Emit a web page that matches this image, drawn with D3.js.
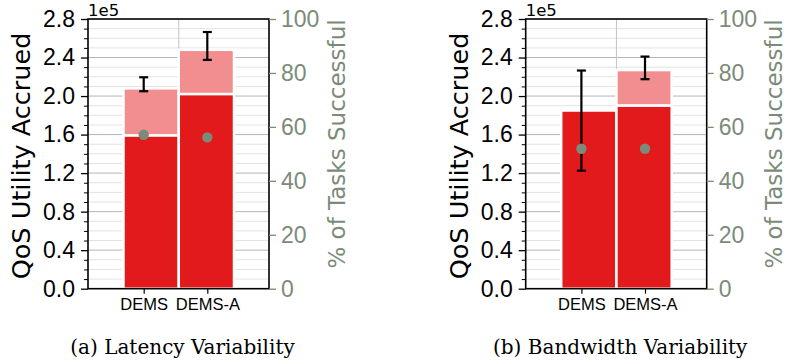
<!DOCTYPE html>
<html>
<head>
<meta charset="utf-8">
<script src="https://cdn.jsdelivr.net/npm/d3@7"></script>
<style>
  body { margin: 0; background: #fff; }
  svg { display: block; font-family: "DejaVu Sans", sans-serif; }
</style>
</head>
<body>
<svg id="chart" width="788" height="362"></svg>
<script>
// categories and values
const categories = ["DEMS", "DEMS-A"];

// (a) latency variability
const latencyBase = [1.59e5, 2.02e5];
const latencyTotal = [2.08e5, 2.48e5];
const latencyErrLow = [2.05e5, 2.375e5];
const latencyErrHigh = [2.195e5, 2.665e5];
const latencySuccess = [57.1, 56.1];

// (b) bandwidth variability
const bandwidthBase = [1.85e5, 1.90e5];
const bandwidthTotal = [1.85e5, 2.27e5];
const bandwidthErrLow = [1.225e5, 2.175e5];
const bandwidthErrHigh = [2.265e5, 2.41e5];
const bandwidthSuccess = [51.9, 51.9];

// ticks
const yMajorTicks = [0, 0.4e5, 0.8e5, 1.2e5, 1.6e5, 2.0e5, 2.4e5, 2.8e5];
const yMinorTicks = d3.range(1, 28).map(i => i * 1e4).filter(v => Math.round(v / 1e4) % 4 !== 0);
const pctTicks = [0, 20, 40, 60, 80, 100];

const captions = ["(a) Latency Variability", "(b) Bandwidth Variability"];

const darkRed = "#e31a1c";
const lightRed = "#f28e8f";
const sage = "#7b8b79";

const svg = d3.select("#chart");

// Draw one panel of the figure
function drawPanel(left, base, total, errLow, errHigh, success, caption) {
    const top = 19, bottom = 288.7;
    const width = 181;

    const g = svg.append("g").attr("transform", `translate(${left},0)`);

    const y = d3.scaleLinear().domain([0, 2.8e5]).range([bottom, top]);
    const yPct = d3.scaleLinear().domain([0, 100]).range([bottom, top]);
    const xBand = d3.scaleBand().domain(categories).range([35.5, 146]).padding(0);
    const xTick = d3.scalePoint().domain(categories).range([55.7, 119.3]);

    // grid lines
    g.append("g").selectAll("line.minor")
        .data(yMinorTicks)
        .enter().append("line")
        .attr("x1", 0).attr("x2", width)
        .attr("y1", d => y(d)).attr("y2", d => y(d))
        .attr("stroke", "#e3e3e3").attr("stroke-width", 1);

    g.append("g").selectAll("line.major")
        .data(yMajorTicks.slice(1, -1))
        .enter().append("line")
        .attr("x1", 0).attr("x2", width)
        .attr("y1", d => y(d)).attr("y2", d => y(d))
        .attr("stroke", "#b5b5b5").attr("stroke-width", 1);

    g.append("line")
        .attr("x1", xBand(categories[1])).attr("x2", xBand(categories[1]))
        .attr("y1", top).attr("y2", bottom)
        .attr("stroke", "#c4c4c4").attr("stroke-width", 1);

    // stacked bars
    const rows = categories.map((c, i) => ({
        cat: c, base: base[i], total: total[i],
        lo: errLow[i], hi: errHigh[i], pct: success[i]
    }));

    g.selectAll("rect.upper")
        .data(rows.filter(d => d.total > d.base))
        .enter().append("rect")
        .attr("x", d => xBand(d.cat))
        .attr("width", xBand.bandwidth())
        .attr("y", d => y(d.total))
        .attr("height", d => y(d.base) - y(d.total))
        .attr("fill", lightRed)
        .attr("stroke", "#fff").attr("stroke-width", 2.5);

    g.selectAll("rect.lower")
        .data(rows)
        .enter().append("rect")
        .attr("x", d => xBand(d.cat))
        .attr("width", xBand.bandwidth())
        .attr("y", d => y(d.base))
        .attr("height", d => y(0) - y(d.base))
        .attr("fill", darkRed)
        .attr("stroke", "#fff").attr("stroke-width", 2.5);

    // error bars
    const err = g.append("g").attr("stroke", "#000").attr("stroke-width", 2.2);
    rows.forEach(d => {
        const cx = xTick(d.cat);
        err.append("line").attr("x1", cx).attr("x2", cx).attr("y1", y(d.lo)).attr("y2", y(d.hi));
        err.append("line").attr("x1", cx - 4.5).attr("x2", cx + 4.5).attr("y1", y(d.lo)).attr("y2", y(d.lo));
        err.append("line").attr("x1", cx - 4.5).attr("x2", cx + 4.5).attr("y1", y(d.hi)).attr("y2", y(d.hi));
    });

    // success rate markers
    g.selectAll("circle")
        .data(rows)
        .enter().append("circle")
        .attr("cx", d => xTick(d.cat))
        .attr("cy", d => yPct(d.pct))
        .attr("r", 5.2)
        .attr("fill", sage);

    // frame
    g.append("rect")
        .attr("x", 0).attr("y", top)
        .attr("width", width).attr("height", bottom - top)
        .attr("fill", "none").attr("stroke", "#000").attr("stroke-width", 1.6);

    // left axis
    const yAxis = g.append("g")
        .call(d3.axisLeft(y).tickValues(yMajorTicks).tickFormat(d => (d / 1e5).toFixed(1)).tickSize(7).tickPadding(6));
    yAxis.select(".domain").remove();
    yAxis.selectAll("line").attr("stroke-width", 1.3);
    yAxis.selectAll("text").style("font-size", "23px").attr("fill", "#000");

    const yMinor = g.append("g")
        .call(d3.axisLeft(y).tickValues(yMinorTicks).tickFormat("").tickSize(4));
    yMinor.select(".domain").remove();
    yMinor.selectAll("line").attr("stroke-width", 1);

    // right axis
    const rAxis = g.append("g")
        .attr("transform", `translate(${width},0)`)
        .call(d3.axisRight(yPct).tickValues(pctTicks).tickSize(7).tickPadding(5));
    rAxis.select(".domain").remove();
    rAxis.selectAll("line").attr("stroke", sage).attr("stroke-width", 1.3);
    rAxis.selectAll("text").style("font-size", "23px").attr("fill", sage);

    // bottom axis
    const xAxis = g.append("g")
        .attr("transform", `translate(0,${bottom})`)
        .call(d3.axisBottom(xTick).tickSize(5).tickPadding(5));
    xAxis.select(".domain").remove();
    xAxis.selectAll("line").attr("stroke-width", 1.2);
    xAxis.selectAll("text").style("font-size", "16.5px").attr("fill", "#000");

    // offset text
    g.append("text")
        .attr("x", 0).attr("y", 16)
        .style("font-size", "16.5px")
        .text("1e5");

    // axis titles
    g.append("text")
        .attr("transform", `translate(-58,156) rotate(-90)`)
        .attr("text-anchor", "middle")
        .style("font-size", "25.5px")
        .text("QoS Utility Accrued");

    g.append("text")
        .attr("transform", `translate(${width + 75.5},144) rotate(-90)`)
        .attr("text-anchor", "middle")
        .style("font-size", "23px")
        .attr("fill", sage)
        .text("% of Tasks Successful");

    // caption
    g.append("text")
        .attr("x", width / 2 + 4).attr("y", 354)
        .attr("text-anchor", "middle")
        .style("font-family", "'DejaVu Serif', serif")
        .style("font-size", "20px")
        .text(caption);
}

drawPanel(88, latencyBase, latencyTotal, latencyErrLow, latencyErrHigh, latencySuccess, captions[0]);
drawPanel(525.7, bandwidthBase, bandwidthTotal, bandwidthErrLow, bandwidthErrHigh, bandwidthSuccess, captions[1]);
</script>
</body>
</html>
